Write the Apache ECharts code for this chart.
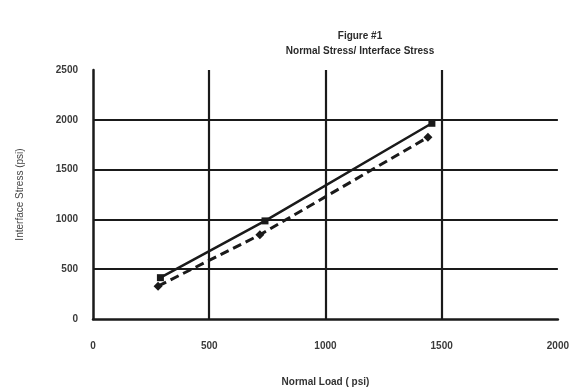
<!DOCTYPE html>
<html>
<head>
<meta charset="utf-8">
<script src="https://cdn.jsdelivr.net/npm/echarts@6/dist/echarts.min.js"></script>
<style>
  html, body { margin: 0; padding: 0; background: #fff; }
  #chart { width: 572px; height: 392px; }
</style>
</head>
<body>
<div id="chart"></div>
<script>
// Normal load vs. interface stress, two test series
const titleLines = ['Figure #1', 'Normal Stress/ Interface Stress'];
const xAxisName = 'Normal Load ( psi)';
const yAxisName = 'Interface Stress (psi)';

const xTicks = [0, 500, 1000, 1500, 2000];
const yTicks = [0, 500, 1000, 1500, 2000, 2500];

const loadA = [290, 740, 1458];
const stressA = [415, 985, 1965];

const loadB = [280, 718, 1441];
const stressB = [330, 845, 1825];

const pairs = (xs, ys) => xs.map((x, i) => [x, ys[i]]);

const ink = '#1a1a1a';
const labelFont = { fontFamily: 'Liberation Sans, Arial, sans-serif', fontWeight: 'bold', fontSize: 10, color: '#3a3a3a' };
const plain = v => String(v);

const chart = echarts.init(document.getElementById('chart'), null, { renderer: 'canvas' });
chart.setOption({
  backgroundColor: '#ffffff',
  animation: false,
  title: {
    text: titleLines.join('\n'),
    left: 355,
    top: 24,
    textAlign: 'center',
    textStyle: { fontFamily: 'Liberation Sans, Arial, sans-serif', fontWeight: 'bold', fontSize: 10, lineHeight: 15, color: '#2a2a2a' }
  },
  grid: { left: 93, right: 14, top: 70, bottom: 69, containLabel: false },
  xAxis: {
    type: 'value',
    min: xTicks[0],
    max: xTicks[xTicks.length - 1],
    interval: 500,
    name: xAxisName,
    nameLocation: 'middle',
    nameGap: 58,
    nameTextStyle: Object.assign({}, labelFont, { color: '#333' }),
    axisLine: { show: true, lineStyle: { color: ink, width: 2.5 } },
    axisTick: { show: false },
    axisLabel: Object.assign({}, labelFont, { margin: 22, showMaxLabel: true, formatter: plain }),
    splitLine: { show: true, showMinLine: false, showMaxLine: false, lineStyle: { color: ink, width: 2.2 } }
  },
  yAxis: {
    type: 'value',
    min: yTicks[0],
    max: yTicks[yTicks.length - 1],
    interval: 500,
    name: yAxisName,
    nameLocation: 'middle',
    nameRotate: 90,
    nameGap: 68,
    nameTextStyle: Object.assign({}, labelFont, { fontWeight: 'normal', color: '#444' }),
    axisLine: { show: true, lineStyle: { color: ink, width: 2.5 } },
    axisTick: { show: false },
    axisLabel: Object.assign({}, labelFont, { margin: 15, formatter: plain }),
    splitLine: { show: true, showMinLine: false, showMaxLine: false, lineStyle: { color: ink, width: 2.2 } }
  },
  series: [
    {
      type: 'line',
      data: pairs(loadA, stressA),
      symbol: 'rect',
      symbolSize: 7,
      lineStyle: { color: ink, width: 2.5, type: 'solid' },
      itemStyle: { color: ink }
    },
    {
      type: 'line',
      data: pairs(loadB, stressB),
      symbol: 'diamond',
      symbolSize: 9,
      lineStyle: { color: ink, width: 3, type: [9, 5] },
      itemStyle: { color: ink }
    }
  ]
});
</script>
</body>
</html>
